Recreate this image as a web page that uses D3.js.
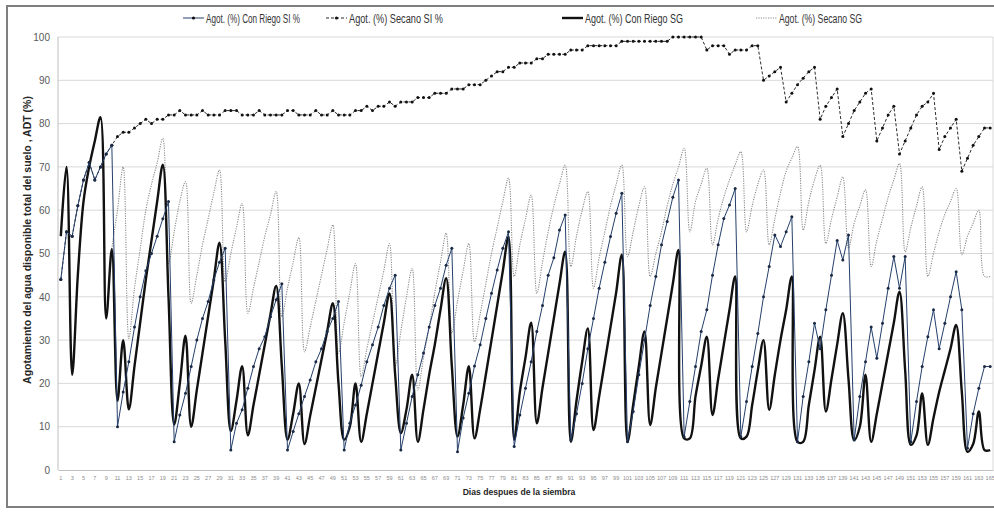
<!DOCTYPE html>
<html>
<head>
<meta charset="utf-8">
<script src="https://cdn.jsdelivr.net/npm/d3@7"></script>
<style>
  html, body { margin: 0; padding: 0; background: #fff; }
  svg { display: block; }
  text { font-family: "Liberation Sans", Arial, sans-serif; }
</style>
</head>
<body>
<svg id="chart" width="994" height="513"></svg>
<script>
// Days after sowing (categories)
const days = d3.range(1, 166);

// Depletion of total available water (%) per day
const riegoSI = [
  44,55,54,61,67,71,67,70,73,75,
  10,18,25,33,40,46,50,54,58,62,
  6.5,12.7,17.7,23.9,30,35,38.9,43.9,48,51.2,
  4.6,10.8,13.9,18.9,23.9,28,30.8,35.4,39.3,43,
  4.6,8.9,13,17,20.8,25,28,32,35,38.9,
  4.6,10.8,15,19.6,25,28.9,33,38,42,45,
  4.6,10.8,17,22,27,33,38,42,47.3,51.2,
  4.2,12,17.7,24,28.9,35,40.8,46.2,51.2,55,
  5.4,12.7,18.9,25,32,38,45,49,55.4,58.9,
  6.9,13,20,28,35,42,48,53.9,59.3,63.9,
  6.5,13.5,22,30,38,44.7,52,57.4,63,67,
  7.7,15.8,23.9,32,37,45,52,58.1,61.2,65,
  7.7,15.8,23.9,31.5,40,47,54.3,51.6,55,58.5,
  6.5,17,25,33.9,28,37,45,53,48.5,54.3,
  6.9,17,25,33,25.8,33.9,42,49.3,42,49.3,
  6.5,15.8,23.9,30.8,37,28,33.9,40,45.8,37,
  5,13,18.9,23.9,23.9
];

const secanoSI = [
  44,55,54,61,67,71,67,70,73,75,
  77,78,78,79,80,81,80,81,81,82,
  82,83,82,82,82,83,82,82,82,83,
  83,83,82,82,82,83,82,82,82,82,
  83,83,82,82,82,83,82,82,83,82,
  82,82,83,83,84,83,84,84,85,84,
  85,85,85,86,86,86,87,87,87,88,
  88,88,89,89,89,90,91,92,92,93,
  93,94,94,94,95,95,96,96,96,96,
  97,97,97,98,98,98,98,98,98,99,
  99,99,99,99,99,99,99,99,100,100,
  100,100,100,100,97,98,98,98,96,97,
  97,97,98,98,90,91,92,93,85,87,
  89,90.5,92,93,81,84,86,88,77,80,
  83,85,87,88,76,79,82,84,73,76,
  79,82,84,85,87,74,77,79,81,69,
  72,75,77,79,79
];

const riegoSG = [
  54,70,22,45,62,70,76,81.5,35,51,
  16,30,14,24,34,44,53,62,70.5,40,
  10.5,20,31,10,18.5,27,35.5,44,52.5,30,
  9,16,24,8,15,22,29,36,42.5,24,
  7,13,20,6,12.5,19,25.5,32,38.5,20,
  7,10,20,6.5,13,20,27,34,40.8,22,
  8.5,14,22,6.5,14,22,29,37,44.3,24,
  7.7,15,24,7.3,14,22,30,38,46,53.9,
  7,18,26,34,10.8,19,27,35,43,50.4,
  6.5,16,25,32.7,9.2,17,25,33,41,49.7,
  6.5,15,24,32,10.4,19,27,35,43,50.8,
  7.3,7.3,17,24,30.8,12.7,21,29,37,44.7,
  7.3,7.7,15,23,30,13.9,22,30,37,44.7,
  6.5,6.5,15,23,30.8,13.5,21,29,36.2,21,
  6.9,10,22,6.5,13,20,27,34,41.2,23,
  5.8,8,17.7,5.8,12,18,23,28,33.5,18,
  4.2,6,13.5,4.6,4.6
];

const secanoSG = [
  54,70,22,45,62,70,76,81.5,35,51,
  60,70,30.4,42,51,60,66,71,76.6,47.7,
  55,62,66.6,38.5,45,52,58,64,69.3,43.5,
  50,56,61.6,36.2,42,48,54,59,64.3,35.4,
  42,48,53.7,27.3,33,39,45,51,56.6,27,
  34,41,47.7,21.6,28,34,40,46,52.3,23.9,
  32,40,46.6,18.5,26,33,41,48,54.7,31.6,
  39,46,52.3,29.6,36,43,50,56,62,67.4,
  44.7,52,58,63.5,40.8,48,55,61,66,70.4,
  47,54,60,64.3,42,49,55,61,66,70.4,
  49.3,55,61,65.4,44.7,50,55,61,66,70,
  74.3,55,62,66,69.7,52,58,63,67,70.5,
  73.5,55,61,66,69.3,52,58,64,69,72,
  74.7,55.4,62,67,70.4,52.3,58,63,67.7,51.2,
  57,61,64.7,47,53,58,63,67,70.8,50.4,
  56,61,65.4,44.7,50,55,59,62,65,49.7,
  54,57,60,44.7,44.7
];

const yTicks = [0,10,20,30,40,50,60,70,80,90,100];
const xTickLabels = days.filter(d => d % 2 === 1);

const seriesNames = [
  "Agot. (%) Con Riego SI %",
  "Agot. (%) Secano SI %",
  "Agot. (%) Con Riego SG",
  "Agot. (%) Secano SG"
];

const svg = d3.select("#chart");
const plot = { left: 58, right: 993, top: 37, bottom: 470 };

// outer frame
svg.append("rect")
  .attr("x", 7).attr("y", 6).attr("width", 1000).attr("height", 501)
  .attr("fill", "#fff").attr("stroke", "#7f7f7f").attr("stroke-width", 2);

const x = d3.scaleBand().domain(days).range([plot.left, plot.right]).padding(0);
const xc = d => x(d) + x.bandwidth() / 2;
const y = d3.scaleLinear().domain([0, 100]).range([plot.bottom, plot.top]);

// gridlines
svg.append("g")
  .selectAll("line").data(yTicks.filter(t => t > 0)).join("line")
  .attr("x1", plot.left).attr("x2", plot.right)
  .attr("y1", d => y(d)).attr("y2", d => y(d))
  .attr("stroke", "#d9d9d9").attr("stroke-width", 1);

// plot-area edges
svg.append("line").attr("x1", plot.right).attr("x2", plot.right)
  .attr("y1", plot.top).attr("y2", plot.bottom).attr("stroke", "#d9d9d9");
svg.append("line").attr("x1", plot.left).attr("x2", plot.left)
  .attr("y1", plot.top).attr("y2", plot.bottom).attr("stroke", "#bfbfbf");

// y axis
const yAxis = d3.axisLeft(y).tickValues(yTicks).tickSize(0).tickPadding(8);
const gy = svg.append("g").attr("transform", `translate(${plot.left},0)`).call(yAxis);
gy.select(".domain").remove();
gy.selectAll("text").attr("font-size", 10).attr("fill", "#595959")
  .attr("font-family", "Liberation Sans, Arial, sans-serif");

// x axis
const xAxis = d3.axisBottom(x).tickValues(xTickLabels).tickSize(0).tickPadding(6);
const gx = svg.append("g").attr("transform", `translate(0,${plot.bottom})`).call(xAxis);
gx.select(".domain").attr("stroke", "#bfbfbf");
gx.selectAll("text").attr("font-size", 5.5).attr("fill", "#8c8c8c")
  .attr("font-family", "Liberation Sans, Arial, sans-serif");

// axis titles
svg.append("text")
  .attr("transform", `translate(31,240) rotate(-90)`)
  .attr("text-anchor", "middle").attr("font-size", 10.5).attr("font-weight", "bold")
  .attr("fill", "#262626")
  .text("Agotamiento del agua disponible total del suelo , ADT (%)");

svg.append("text")
  .attr("x", 519).attr("y", 495)
  .attr("text-anchor", "middle").attr("font-size", 8.6).attr("font-weight", "bold")
  .attr("fill", "#262626")
  .text("Dias despues de la siembra");

const smooth = d3.line().x((v, i) => xc(days[i])).y(v => y(v)).curve(d3.curveCatmullRom.alpha(0.5));
const straight = d3.line().x((v, i) => xc(days[i])).y(v => y(v));

const gLines = svg.append("g");

// Secano SG: grey dotted
gLines.append("path").attr("d", smooth(secanoSG))
  .attr("fill", "none").attr("stroke", "#8c8c8c").attr("stroke-width", 1.1)
  .attr("stroke-dasharray", "1.2,1.2");

// Con Riego SG: heavy black
gLines.append("path").attr("d", smooth(riegoSG))
  .attr("fill", "none").attr("stroke", "#111").attr("stroke-width", 2.4)
  .attr("stroke-linejoin", "round");

// Secano SI: dashed with markers
gLines.append("path").attr("d", straight(secanoSI))
  .attr("fill", "none").attr("stroke", "#2b2b2b").attr("stroke-width", 1)
  .attr("stroke-dasharray", "3,2");
gLines.append("g").selectAll("circle").data(secanoSI).join("circle")
  .attr("cx", (v, i) => xc(days[i])).attr("cy", v => y(v)).attr("r", 1.5)
  .attr("fill", "#111");

// Con Riego SI: thin navy with markers
gLines.append("path").attr("d", straight(riegoSI))
  .attr("fill", "none").attr("stroke", "#243f6b").attr("stroke-width", 1);
gLines.append("g").selectAll("circle").data(riegoSI).join("circle")
  .attr("cx", (v, i) => xc(days[i])).attr("cy", v => y(v)).attr("r", 1.5)
  .attr("fill", "#1a2a44");

// legend: condensed labels fitted to their slots
const legendItems = [
  { name: seriesNames[0], x: 183, len: 94, stroke: "#243f6b", dash: null, w: 1, marker: true },
  { name: seriesNames[1], x: 326, len: 94, stroke: "#2b2b2b", dash: "3,2", w: 1, marker: true },
  { name: seriesNames[2], x: 562, len: 98, stroke: "#111", dash: null, w: 2.4, marker: false },
  { name: seriesNames[3], x: 756, len: 83, stroke: "#8c8c8c", dash: "1.2,1.2", w: 1.1, marker: false }
];
const lg = svg.append("g");
legendItems.forEach(it => {
  const g = lg.append("g").attr("transform", `translate(${it.x},18)`);
  g.append("line").attr("x1", 0).attr("x2", 21).attr("y1", 0).attr("y2", 0)
    .attr("stroke", it.stroke).attr("stroke-width", it.w)
    .attr("stroke-dasharray", it.dash);
  if (it.marker) g.append("circle").attr("cx", 10.5).attr("cy", 0).attr("r", 1.6).attr("fill", "#111");
  g.append("text").attr("x", 23).attr("y", 4.5).attr("font-size", 12.5)
    .attr("textLength", it.len).attr("lengthAdjust", "spacingAndGlyphs")
    .attr("fill", "#333").text(it.name);
});
</script>
</body>
</html>
